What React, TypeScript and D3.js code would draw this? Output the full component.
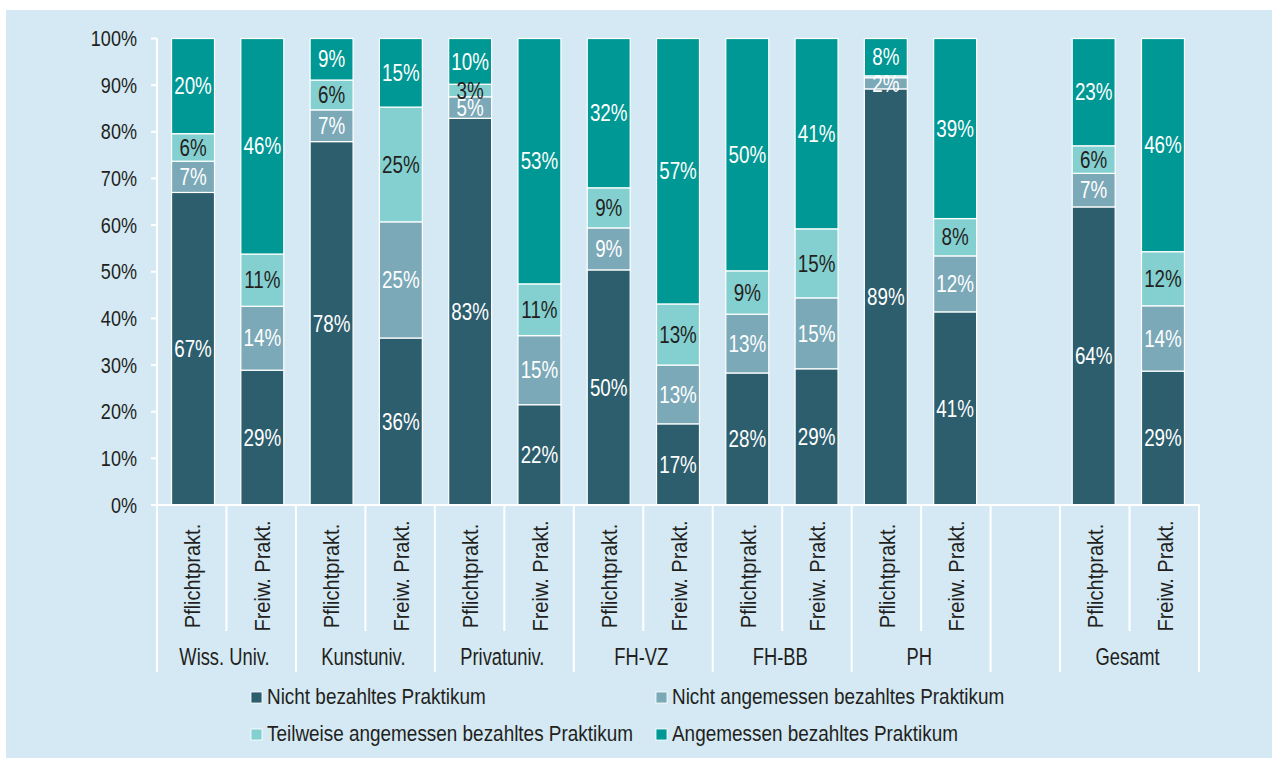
import React from "react";
import * as d3 from "d3";

const groups = ["Wiss. Univ.", "Kunstuniv.", "Privatuniv.", "FH-VZ", "FH-BB", "PH", "", "Gesamt"];
const barTypes = ["Pflichtprakt.", "Freiw. Prakt."];
const seriesNames = [
  "Nicht bezahltes Praktikum",
  "Nicht angemessen bezahltes Praktikum",
  "Teilweise angemessen bezahltes Praktikum",
  "Angemessen bezahltes Praktikum",
];
// order of bars: for each non-empty group: Pflicht, Freiw.
const nichtBezahlt = [67.0, 28.9, 77.9, 35.8, 82.9, 21.5, 50.4, 17.4, 28.3, 29.2, 89.2, 41.4, 63.9, 28.7];
const nichtAngemessen = [6.7, 13.7, 6.8, 24.9, 4.6, 14.8, 9.0, 12.6, 12.6, 15.2, 2.4, 12.0, 7.2, 14.0];
const teilweise = [5.9, 11.2, 6.4, 24.6, 2.7, 11.1, 8.6, 13.1, 9.3, 14.8, 0.4, 8.0, 5.9, 11.6];
const angemessen = [20.4, 46.2, 8.9, 14.7, 9.8, 52.6, 32.0, 56.9, 49.8, 40.8, 8.0, 38.6, 23.0, 45.7];
const yTicks = [0, 10, 20, 30, 40, 50, 60, 70, 80, 90, 100];

const colors = ["#2d5e6d", "#7ba9b8", "#84d0d1", "#009894"];
const labelColors = ["#ffffff", "#ffffff", "#231f20", "#ffffff"];
const FONT = "'Liberation Sans', Arial, sans-serif";
const TEXT = "#231f20";

function T(props: {
  x: number;
  y: number;
  sx: number;
  size: number;
  anchor?: string;
  fill?: string;
  rotate?: number;
  children: React.ReactNode;
}) {
  const { x, y, sx, size, anchor = "start", fill = TEXT, rotate = 0, children } = props;
  return (
    <text
      transform={`translate(${x},${y}) rotate(${rotate}) scale(${sx},1)`}
      textAnchor={anchor}
      dy="0.35em"
      fontSize={size}
      fill={fill}
    >
      {children}
    </text>
  );
}

export default function App() {
  const slots: { key: string; group: string; type: string | null }[] = [];
  groups.forEach((g, gi) => {
    if (g === "") slots.push({ key: "gap" + gi, group: g, type: null });
    else barTypes.forEach((t) => slots.push({ key: g + "|" + t, group: g, type: t }));
  });
  const barSlots = slots.filter((s) => s.type !== null);
  const series = [nichtBezahlt, nichtAngemessen, teilweise, angemessen];
  const rows = barSlots.map((s, i) => {
    const r: any = { key: s.key };
    series.forEach((arr, k) => (r["s" + k] = arr[i]));
    return r;
  });
  const stack = d3.stack<any>().keys(["s0", "s1", "s2", "s3"])(rows);

  const x = d3.scaleBand<string>().domain(slots.map((s) => s.key)).range([157, 1199]).paddingInner(0.38).paddingOuter(0.21);
  const slotX = d3.scaleBand<string>().domain(slots.map((s) => s.key)).range([157, 1199]);
  const y = d3.scaleLinear().domain([0, 100]).range([505, 38.5]);
  const step = slotX.step();

  const boundaries: { x: number; long: boolean }[] = [];
  slots.forEach((s, i) => {
    const x0 = slotX(s.key)!;
    const prev = slots[i - 1];
    const long = !prev || prev.group !== s.group || s.type === null;
    boundaries.push({ x: x0, long });
  });
  boundaries.push({ x: slotX(slots[slots.length - 1].key)! + step, long: true });

  const groupCenters = groups
    .filter((g) => g !== "")
    .map((g) => {
      const ss = slots.filter((s) => s.group === g);
      const a = slotX(ss[0].key)!;
      const b = slotX(ss[ss.length - 1].key)! + step;
      return { g, cx: (a + b) / 2 };
    });

  return (
    <div style={{ position: "absolute", left: 0, top: 0 }}>
      <svg width={1272} height={758} style={{ display: "block" }} fontFamily={FONT}>
        <rect x={0} y={0} width={1272} height={758} fill="#ffffff" />
        <rect x={6} y={10} width={1266} height={748} fill="#d4e9f4" />

        {stack.map((layer, k) => (
          <g key={k}>
            {layer.map((d, i) => {
              const key = rows[i].key;
              const y0 = y(d[0]);
              const y1 = y(d[1]);
              return (
                <rect key={key} x={x(key)} y={y1} width={x.bandwidth()} height={Math.max(0, y0 - y1)} fill={colors[k]} stroke="#ffffff" strokeWidth={1.2} />
              );
            })}
          </g>
        ))}
        {stack.map((layer, k) => (
          <g key={"l" + k}>
            {layer.map((d, i) => {
              const key = rows[i].key;
              const y0 = y(d[0]);
              const y1 = y(d[1]);
              const v = d[1] - d[0];
              if (Math.round(v) < 1) return null;
              return (
                <T key={key} x={x(key)! + x.bandwidth() / 2} y={(y0 + y1) / 2} sx={0.8} size={23.5} anchor="middle" fill={labelColors[k]}>
                  {Math.round(v) + "%"}
                </T>
              );
            })}
          </g>
        ))}

        <line x1={157} x2={157} y1={y(100)} y2={y(0)} stroke="#ffffff" strokeWidth={2} />
        {yTicks.map((t) => (
          <g key={t}>
            <line x1={151} x2={157} y1={y(t)} y2={y(t)} stroke="#ffffff" strokeWidth={2} />
            <T x={137} y={y(t)} sx={0.84} size={21.5} anchor="end">
              {t + "%"}
            </T>
          </g>
        ))}
        <line x1={151} x2={1200} y1={y(0)} y2={y(0)} stroke="#ffffff" strokeWidth={2} />
        {boundaries.map((b, i) => (
          <line key={i} x1={b.x} x2={b.x} y1={y(0)} y2={b.long ? 672 : 631} stroke="#ffffff" strokeWidth={2} />
        ))}
        {barSlots.map((s) => {
          const cx = slotX(s.key)! + step / 2;
          return (
            <T key={s.key} x={cx + 1} y={576} rotate={-90} sx={0.93} size={21.5} anchor="middle">
              {s.type}
            </T>
          );
        })}
        {groupCenters.map((g) => (
          <T key={g.g} x={g.cx - 2} y={657} sx={0.78} size={23.5} anchor="middle">
            {g.g}
          </T>
        ))}

        {seriesNames.map((n, i) => {
          const col = i % 2;
          const row = Math.floor(i / 2);
          const lx = col === 0 ? 251 : 656;
          const ly = row === 0 ? 697 : 734;
          return (
            <g key={n}>
              <rect x={lx} y={ly - 5} width={11} height={11} fill={colors[i]} stroke="#ffffff" strokeWidth={0.8} />
              <T x={lx + 16} y={ly - 1} sx={0.88} size={21.5}>
                {n}
              </T>
            </g>
          );
        })}
      </svg>
    </div>
  );
}
